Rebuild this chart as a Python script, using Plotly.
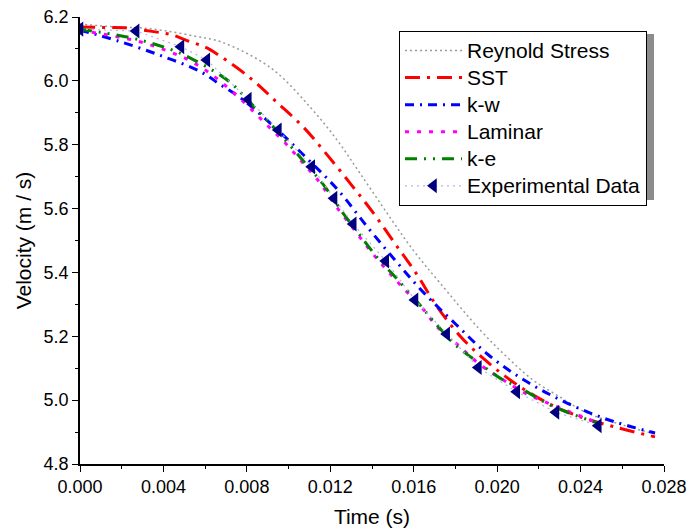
import plotly.graph_objects as go

# ---------------- data ----------------
t_rs = [0.0000, 0.00168, 0.00288, 0.00408, 0.00551, 0.00681, 0.00916, 0.01103, 0.01232, 0.01342,
        0.01472, 0.01597, 0.01726, 0.01918, 0.02047, 0.02172, 0.02301, 0.02431, 0.02603, 0.02757]
v_rs = [6.178, 6.169, 6.166, 6.157, 6.140, 6.121, 6.040, 5.918, 5.815, 5.711,
        5.586, 5.470, 5.367, 5.220, 5.135, 5.063, 5.010, 4.960, 4.922, 4.894]

t_sst = [0.0, 0.00134, 0.00216, 0.00345, 0.00441, 0.00513, 0.00599, 0.00671, 0.00818, 0.00942,
         0.01074, 0.01189, 0.01304, 0.01410, 0.01515, 0.01616, 0.01707, 0.01822, 0.01942, 0.02076,
         0.02239, 0.02397, 0.02575, 0.02757]
v_sst = [6.169, 6.167, 6.166, 6.155, 6.144, 6.126, 6.106, 6.078, 6.008, 5.934,
         5.853, 5.765, 5.672, 5.583, 5.486, 5.393, 5.298, 5.201, 5.126, 5.057,
         4.992, 4.948, 4.914, 4.885]

t_kw = [0.0, 0.00182, 0.00388, 0.00580, 0.00671, 0.00767, 0.00921, 0.01084, 0.01237, 0.01376,
        0.01510, 0.01649, 0.01803, 0.01956, 0.02129, 0.02316, 0.02522, 0.02757]
v_kw = [6.159, 6.125, 6.079, 6.028, 5.989, 5.948, 5.862, 5.760, 5.658, 5.544,
        5.439, 5.336, 5.237, 5.143, 5.063, 4.997, 4.941, 4.897]

t_lam = [0.0, 0.00153, 0.00273, 0.00393, 0.00513, 0.00614, 0.00710, 0.00805, 0.00896, 0.00983,
         0.01069, 0.01151, 0.01223, 0.01304, 0.01381, 0.01462, 0.01544, 0.01640, 0.01716, 0.01822,
         0.01918, 0.02023, 0.02134, 0.02244, 0.02373, 0.02493]
v_lam = [6.159, 6.141, 6.125, 6.100, 6.068, 6.028, 5.978, 5.921, 5.862, 5.806,
         5.743, 5.680, 5.611, 5.543, 5.477, 5.414, 5.355, 5.289, 5.227, 5.167,
         5.111, 5.066, 5.022, 4.991, 4.957, 4.926]

t_ke = [0.0, 0.00058, 0.00120, 0.00249, 0.00336, 0.00441, 0.00527, 0.00638, 0.00719, 0.00782,
        0.00849, 0.00949, 0.01079, 0.01175, 0.01261, 0.01342, 0.01424, 0.01525, 0.01630, 0.01702,
        0.01812, 0.01908, 0.02014, 0.02110, 0.02253, 0.02373, 0.02493]
v_ke = [6.162, 6.156, 6.150, 6.134, 6.119, 6.097, 6.072, 6.032, 5.996, 5.956,
        5.909, 5.840, 5.743, 5.668, 5.586, 5.517, 5.448, 5.376, 5.298, 5.242,
        5.166, 5.119, 5.069, 5.038, 4.985, 4.953, 4.926]

t_exp = [0.0, 0.00269, 0.00484, 0.00608, 0.00807, 0.00951, 0.01111, 0.01218, 0.01310, 0.01466,
         0.01606, 0.01758, 0.01910, 0.02094, 0.02282, 0.02485]
v_exp = [6.162, 6.156, 6.107, 6.065, 5.942, 5.846, 5.731, 5.632, 5.552, 5.436,
         5.314, 5.207, 5.102, 5.026, 4.962, 4.920]

x_ticks = [0.000, 0.004, 0.008, 0.012, 0.016, 0.020, 0.024, 0.028]
y_ticks = [4.8, 5.0, 5.2, 5.4, 5.6, 5.8, 6.0, 6.2]

series_names = ["Reynold Stress", "SST", "k-w", "Laminar", "k-e", "Experimental Data"]

FONT = "Liberation Sans, Arial, sans-serif"


def lg(name):
    # legend label drawn at 21px while row spacing follows the legend font size
    return f'<span style="font-size:21px">{name}</span>'


fig = go.Figure()

fig.add_trace(go.Scatter(x=t_rs, y=v_rs, mode="lines", name=lg(series_names[0]),
                         line=dict(color="#9a9a9a", width=1.5, dash="2px,3px", shape="spline")))
fig.add_trace(go.Scatter(x=t_sst, y=v_sst, mode="lines", name=lg(series_names[1]),
                         line=dict(color="#ff0000", width=3, dash="15px,7px,3px,7px", shape="spline")))
fig.add_trace(go.Scatter(x=t_kw, y=v_kw, mode="lines", name=lg(series_names[2]),
                         line=dict(color="#0000ff", width=3, dash="9px,6px,2px,6px", shape="spline")))
fig.add_trace(go.Scatter(x=t_lam, y=v_lam, mode="lines", name=lg(series_names[3]),
                         line=dict(color="#ff00ff", width=3, dash="4px,8px", shape="spline")))
fig.add_trace(go.Scatter(x=t_ke, y=v_ke, mode="lines", name=lg(series_names[4]),
                         line=dict(color="#008000", width=3, dash="12px,7px,2px,7px,2px,7px", shape="spline")))
fig.add_trace(go.Scatter(x=t_exp, y=v_exp, mode="lines+markers", name=lg(series_names[5]),
                         line=dict(color="#b4b4e6", width=1.2, dash="2px,4px"),
                         marker=dict(symbol="triangle-left", size=13, color="#000080")))

axis_common = dict(showgrid=False, zeroline=False, showline=True, linecolor="black", linewidth=1.5,
                   tickcolor="black", tickwidth=1.2, ticklen=6, automargin=False,
                   tickfont=dict(family=FONT, size=18, color="black"))

fig.update_layout(
    width=697, height=530,
    margin=dict(l=80, r=33, t=17, b=66),
    paper_bgcolor="white", plot_bgcolor="white",
    font=dict(family=FONT, color="black"),
    showlegend=True,
    xaxis=dict(range=[0, 0.028], tickvals=x_ticks, ticktext=[f"{v:.3f}" for v in x_ticks],
               ticks="outside",
               minor=dict(dtick=0.002, ticks="outside", ticklen=3, tickcolor="black", tickwidth=1.2),
               title=dict(text="Time (s)", font=dict(family=FONT, size=21), standoff=13),
               **axis_common),
    yaxis=dict(range=[4.8, 6.2], tickvals=y_ticks, ticktext=[f"{v:.1f}" for v in y_ticks],
               ticks="outside",
               minor=dict(dtick=0.1, ticks="outside", ticklen=3, tickcolor="black", tickwidth=1.2),
               title=dict(text="Velocity (m / s)", font=dict(family=FONT, size=21), standoff=6),
               **axis_common),
    xaxis2=dict(range=[0, 0.028], overlaying="x", side="top", anchor="y", tickvals=x_ticks,
                showticklabels=False, ticks="inside",
                minor=dict(dtick=0.002, ticks="inside", ticklen=3, tickcolor="black", tickwidth=1.2),
                **axis_common),
    yaxis2=dict(range=[4.8, 6.2], overlaying="y", side="right", anchor="x", tickvals=y_ticks,
                showticklabels=False, ticks="inside",
                minor=dict(dtick=0.1, ticks="inside", ticklen=3, tickcolor="black", tickwidth=1.2),
                **axis_common),
    legend=dict(x=(399 - 80) / 584, y=1 - (31 - 17) / 447, xanchor="left", yanchor="top",
                bgcolor="white", bordercolor="black", borderwidth=1,
                font=dict(family=FONT, size=18.5, color="black"),
                itemwidth=57, tracegroupgap=0),
)

# legend drop shadow
fig.add_shape(type="rect", xref="paper", yref="paper",
              x0=(402 - 80) / 584, x1=(654 - 80) / 584,
              y0=1 - (200 - 17) / 447, y1=1 - (34 - 17) / 447,
              fillcolor="#8c8c8c", line=dict(width=0), layer="above")

fig.write_html("out.html", config={"displayModeBar": False},
               post_script="document.body.style.margin='0';")
